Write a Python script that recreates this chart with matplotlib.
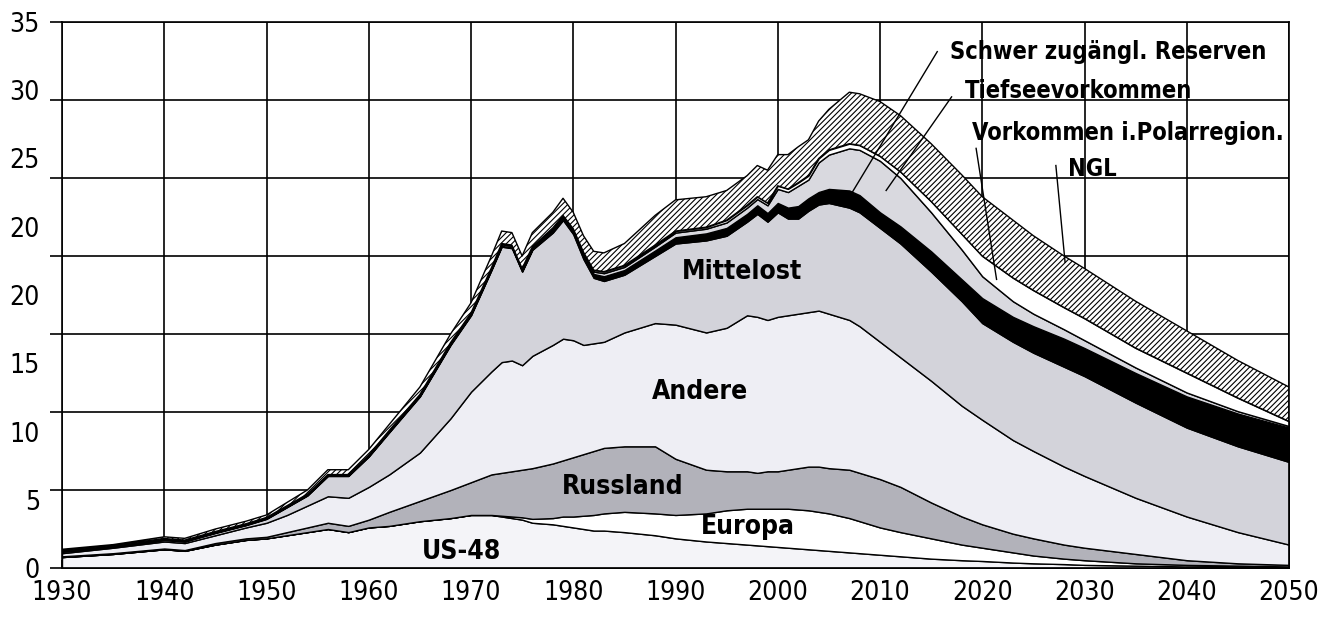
import numpy as np
import matplotlib
matplotlib.use("Agg")
import matplotlib.pyplot as plt

# Jahre und Förderung je Region (Mio. Barrel/Tag, gestapelt)
years = [1930, 1935, 1940, 1942, 1945, 1948, 1950, 1952, 1954, 1956, 1958,
         1960, 1962, 1965, 1968, 1970, 1972, 1973, 1974, 1975, 1976,
         1978, 1979, 1980, 1981, 1982, 1983, 1985, 1988, 1990, 1993, 1995, 1997, 1998, 1999,
         2000, 2001, 2002, 2003, 2004, 2005, 2007, 2008, 2010, 2012, 2015, 2018, 2020, 2023,
         2025, 2028, 2030, 2035, 2040, 2045, 2050]

us48 = [0.7, 0.9, 1.2, 1.1, 1.5, 1.8, 1.9, 2.1, 2.3, 2.5, 2.3,
        2.6, 2.7, 3.0, 3.2, 3.4, 3.4, 3.3, 3.2, 3.1, 2.9,
        2.8, 2.7, 2.6, 2.5, 2.4, 2.4, 2.3, 2.1, 1.9, 1.7, 1.6, 1.5, 1.45, 1.4,
        1.35, 1.3, 1.25, 1.2, 1.15, 1.1, 1.0, 0.95, 0.85, 0.75, 0.6, 0.5, 0.45, 0.35,
        0.3, 0.25, 0.2, 0.15, 0.1, 0.08, 0.05]
europa = [0, 0, 0, 0, 0, 0, 0, 0, 0, 0, 0,
          0, 0, 0, 0, 0, 0, 0.05, 0.1, 0.15, 0.25,
          0.4, 0.6, 0.7, 0.85, 1.0, 1.1, 1.3, 1.4, 1.5, 1.8, 2.1, 2.3, 2.35, 2.4,
          2.45, 2.5, 2.5, 2.5, 2.45, 2.4, 2.2, 2.05, 1.75, 1.55, 1.3, 1.0, 0.85, 0.65,
          0.5, 0.35, 0.3, 0.15, 0.1, 0.07, 0.05]
russland = [0.05, 0.05, 0.05, 0.05, 0.1, 0.1, 0.1, 0.2, 0.3, 0.4, 0.4,
            0.5, 0.9, 1.3, 1.8, 2.1, 2.6, 2.75, 2.9, 3.05, 3.25,
            3.5, 3.6, 3.8, 3.95, 4.1, 4.2, 4.2, 4.3, 3.6, 2.8, 2.5, 2.4, 2.3, 2.4,
            2.4, 2.5, 2.65, 2.8, 2.9, 2.9, 3.1, 3.1, 3.1, 2.9, 2.3, 1.8, 1.5, 1.2,
            1.1, 0.9, 0.8, 0.6, 0.3, 0.15, 0.1]
andere = [0.2, 0.35, 0.45, 0.45, 0.5, 0.7, 0.9, 1.1, 1.4, 1.7, 1.8,
          2.1, 2.4, 3.1, 4.6, 5.8, 6.6, 7.1, 7.1, 6.7, 7.2,
          7.6, 7.8, 7.5, 7.0, 6.9, 6.8, 7.3, 7.9, 8.6, 8.8, 9.2, 10.0, 10.0, 9.7,
          9.9, 9.9, 9.9, 9.9, 10.0, 9.9, 9.6, 9.4, 8.8, 8.3, 7.8, 7.1, 6.7, 6.0,
          5.6, 5.0, 4.6, 3.6, 2.8, 2.0, 1.3]
mittelost = [0.1, 0.05, 0.1, 0.1, 0.15, 0.15, 0.25, 0.5, 0.65, 1.3, 1.4,
             1.95, 2.7, 3.6, 4.7, 4.9, 6.5, 7.4, 7.2, 6.0, 6.8,
             7.2, 7.6, 6.8, 5.5, 4.2, 3.9, 3.7, 4.3, 5.2, 5.9, 5.9, 6.0, 6.6, 6.3,
             6.7, 6.2, 6.1, 6.5, 6.8, 7.1, 7.2, 7.3, 7.3, 7.3, 7.0, 6.7, 6.2, 6.3,
             6.3, 6.4, 6.4, 6.1, 5.7, 5.5, 5.3]
schwer = [0.03, 0.03, 0.03, 0.03, 0.03, 0.03, 0.03, 0.03, 0.03, 0.03, 0.03,
          0.03, 0.04, 0.04, 0.05, 0.05, 0.05, 0.05, 0.05, 0.05, 0.05,
          0.1, 0.1, 0.15, 0.2, 0.25, 0.3, 0.3, 0.35, 0.4, 0.45, 0.5, 0.5, 0.55, 0.55,
          0.6, 0.7, 0.8, 0.8, 0.8, 0.9, 1.1, 1.1, 1.0, 1.1, 1.3, 1.4, 1.6, 1.6,
          1.7, 1.8, 1.8, 1.9, 2.0, 2.1, 2.2]
tiefsee = [0.03, 0.03, 0.03, 0.03, 0.03, 0.03, 0.03, 0.03, 0.03, 0.03, 0.03,
           0.03, 0.04, 0.04, 0.05, 0.05, 0.05, 0.1, 0.1, 0.1, 0.1,
           0.1, 0.1, 0.1, 0.15, 0.15, 0.2, 0.2, 0.25, 0.3, 0.3, 0.35, 0.4, 0.4, 0.5,
           0.9, 1.0, 1.3, 1.2, 1.9, 2.2, 2.7, 2.9, 3.3, 3.1, 2.5, 1.9, 1.4, 1.0,
           0.8, 0.6, 0.5, 0.35, 0.25, 0.15, 0.1]
polar = [0.03, 0.03, 0.03, 0.03, 0.03, 0.03, 0.03, 0.03, 0.03, 0.03, 0.03,
         0.03, 0.04, 0.04, 0.05, 0.05, 0.05, 0.05, 0.05, 0.05, 0.05,
         0.1, 0.1, 0.1, 0.1, 0.1, 0.1, 0.1, 0.1, 0.1, 0.1, 0.15, 0.15, 0.15, 0.15,
         0.2, 0.2, 0.2, 0.25, 0.25, 0.3, 0.3, 0.3, 0.3, 0.4, 0.7, 1.0, 1.3, 1.5,
         1.5, 1.4, 1.4, 1.25, 1.25, 0.85, 0.3]
ngl = [0.06, 0.06, 0.11, 0.11, 0.16, 0.16, 0.16, 0.21, 0.26, 0.31, 0.31,
       0.36, 0.38, 0.48, 0.55, 0.65, 0.75, 0.8, 0.8, 0.8, 0.9,
       1.0, 1.1, 1.05, 1.05, 1.2, 1.2, 1.4, 1.9, 2.0, 1.95, 1.9, 1.9, 2.0, 2.1,
       2.0, 2.2, 2.3, 2.3, 2.4, 2.6, 3.3, 3.3, 3.5, 3.6, 3.7, 3.8, 3.8, 3.7,
       3.5, 3.3, 3.2, 3.0, 2.7, 2.4, 2.2]

xticks = [1930, 1940, 1950, 1960, 1970, 1980, 1990, 2000, 2010, 2020, 2030, 2040, 2050]
ygrid = [0, 5, 10, 15, 20, 25, 30, 35]
ytick_labels = ["0", "5", "10", "15", "20", "20", "25", "30", "35"]

plt.rcParams["font.family"] = ["DejaVu Sans"]
plt.rcParams["font.stretch"] = "condensed"
plt.rcParams["hatch.linewidth"] = 0.8

W, H = 1326, 619
fig = plt.figure(figsize=(W / 100, H / 100), dpi=100)
ax = fig.add_axes([62 / W, 1 - 568 / H, (1289 - 62) / W, (568 - 22) / H])

colors = ["#f4f4f8", "#ffffff", "#b2b2ba", "#eeeef4", "#d3d3da",
          "#000000", "#d9d9df", "#ffffff", "#ffffff"]
polys = ax.stackplot(years, us48, europa, russland, andere, mittelost,
                     schwer, tiefsee, polar, ngl,
                     colors=colors, edgecolor="black", linewidth=1.0, zorder=3)
polys[-1].set_hatch("//////")

ax.set_xlim(1930, 2050)
ax.set_ylim(0, 35)
ax.set_xticks(xticks)
ax.set_yticks(ygrid)
ax.set_yticklabels([])
# Beschriftung der y-Achse wie im Original (gleichmäßig verteilt)
ax.yaxis.remove_overlapping_locs = False
ax.set_yticks(np.linspace(0, 35, len(ytick_labels)), minor=True)
ax.set_yticklabels(ytick_labels, minor=True)

ax.grid(True, which="major", color="black", linewidth=1.2)
ax.set_axisbelow(True)
for s in ax.spines.values():
    s.set_linewidth(1.2)
    s.set_zorder(4)

ax.tick_params(axis="y", which="major", direction="out", length=9, width=1.2)
ax.tick_params(axis="y", which="minor", length=0, pad=16, labelsize=19)
ax.tick_params(axis="x", direction="in", length=6, width=1.2, pad=9, labelsize=19)

# Regionen-Beschriftung
lab = dict(ha="center", va="center", fontsize=19, fontweight="bold", zorder=6)
ax.text(1996.5, 19.0, "Mittelost", **lab)
ax.text(1992.4, 11.3, "Andere", **lab)
ax.text(1984.8, 5.2, "Russland", **lab)
ax.text(1997.1, 2.6, "Europa", **lab)
ax.text(1969.1, 1.0, "US-48", **lab)

# Legende mit Hinweislinien oben rechts
lab2 = dict(ha="left", va="center", fontsize=17, fontweight="bold", zorder=6)
ax.text(2016.8, 33.1, "Schwer zugängl. Reserven", **lab2)
ax.text(2018.3, 30.6, "Tiefseevorkommen", **lab2)
ax.text(2019.0, 27.9, "Vorkommen i.Polarregion.", **lab2)
ax.text(2028.4, 25.6, "NGL", **lab2)
lk = dict(color="black", linewidth=1.0, zorder=6)
ax.plot([2015.6, 2007.3], [33.1, 24.1], **lk)
ax.plot([2017.0, 2010.6], [30.2, 24.2], **lk)
ax.plot([2019.4, 2021.4], [26.9, 18.5], **lk)
ax.plot([2027.2, 2028.1], [25.8, 19.6], **lk)

fig.savefig("out.png", dpi=100)
